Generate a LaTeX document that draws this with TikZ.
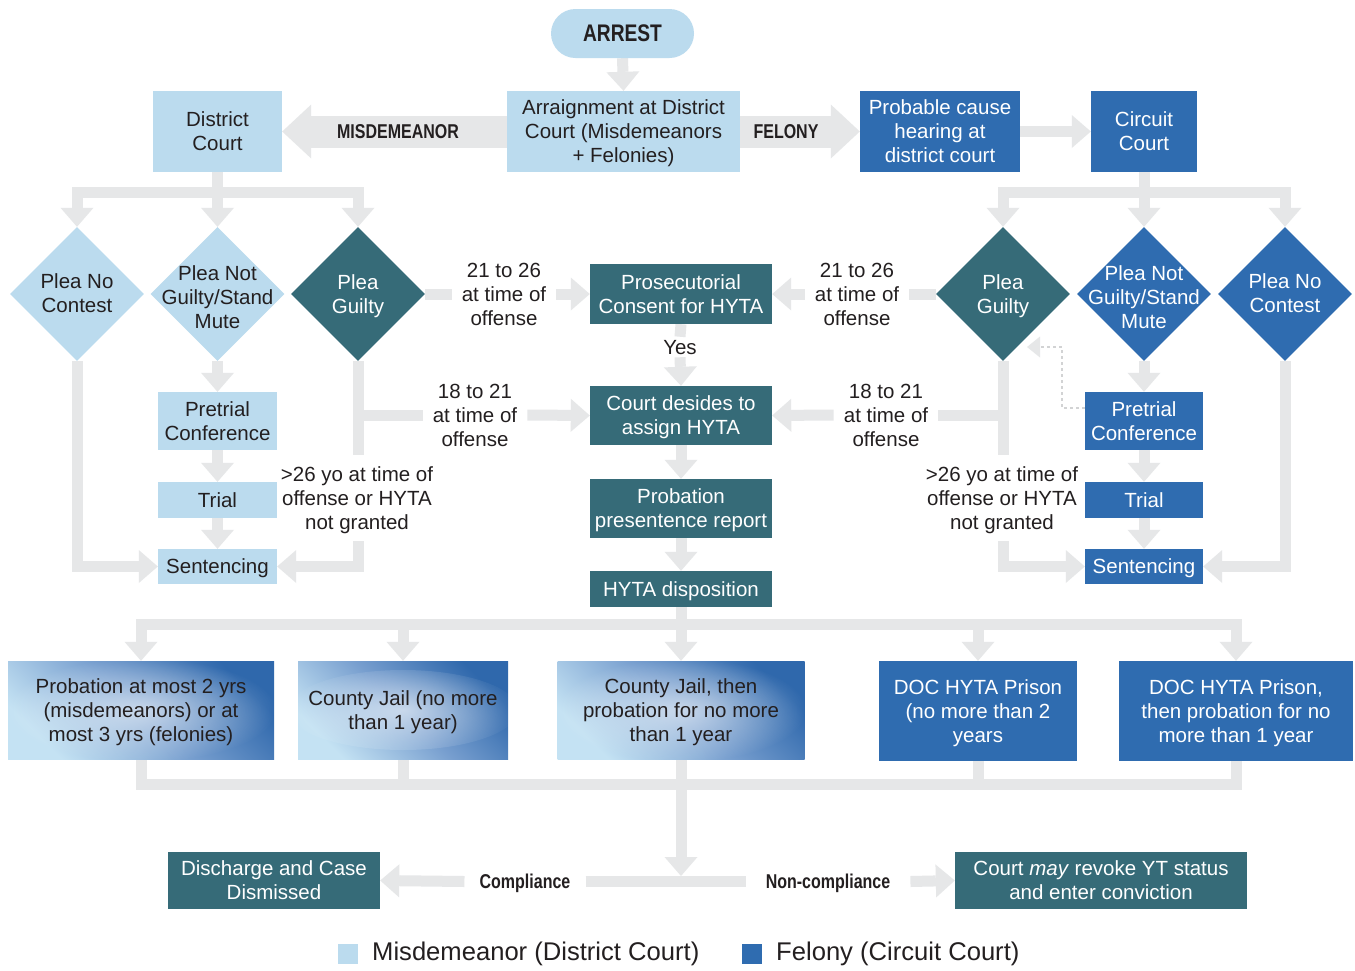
\documentclass[tikz,border=0pt]{standalone}
\usepackage{fontspec}
\setmainfont{Liberation Sans}
\newfontfamily\condfont[FakeStretch=0.8]{Liberation Sans}
\usetikzlibrary{arrows.meta,shapes.geometric,calc,backgrounds,fadings}
\definecolor{lblue}{HTML}{BBDBEE}
\definecolor{mblue}{HTML}{2F6CB0}
\definecolor{tealc}{HTML}{366B78}
\definecolor{cgray}{HTML}{E6E7E8}
\definecolor{dotg}{HTML}{D2D3D4}
\definecolor{txt}{HTML}{231F20}
\definecolor{gdark}{HTML}{2F68AC}
\definecolor{gmid}{HTML}{789FCF}
\definecolor{glight}{HTML}{C4E2F3}
\tikzfading[name=softglow,inner color=transparent!0,outer color=transparent!100]
\newcommand\fsz{\fontsize{20.5}{24}\selectfont}
\newcommand\bsz{\condfont\bfseries\fontsize{20}{24}\selectfont}
\begin{document}
\begin{tikzpicture}[x=1pt,y=-1pt,
  box/.style={rectangle,inner sep=0pt,align=center,font=\fsz,text depth=0pt},
  lbox/.style={box,fill=lblue,text=txt},
  bbox/.style={box,fill=mblue,text=white},
  tbox/.style={box,fill=tealc,text=white},
  gbox/.style={box,text=txt,top color=gdark,bottom color=glight,middle color=gmid,shading angle=-45,
    path picture={\fill[white,opacity=0.6,path fading=softglow]
      (path picture bounding box.center) ellipse (#1);}},
  dia/.style={diamond,minimum width=134pt,minimum height=134pt,inner sep=0pt},
  dtext/.style={align=center,font=\fsz,inner sep=0pt,text depth=0pt},
  lab/.style={align=center,font=\fsz,text=txt,inner xsep=10pt,inner ysep=0pt,text depth=0pt},
  blab/.style={font=\bsz,text=txt,inner ysep=0pt,text depth=0pt},
  conn/.style={draw=cgray,line width=11pt,line join=miter},
  conna/.style={conn,-{Triangle[length=19pt,width=33pt,line width=0pt]}},
  bigarrow/.style={draw=cgray,line width=32pt,-{Triangle[length=29pt,width=54pt,line width=0pt]}},
]
\useasboundingbox (0,0) rectangle (1355,970);
% top row
\node[lbox,rounded corners=24.5pt,minimum width=143pt,minimum height=49pt,font=\condfont\bfseries\fontsize{24}{28}\selectfont] (arrest) at (622.5,33.5) {ARREST};
\node[lbox,minimum width=233pt,minimum height=81pt] (arr) at (623.5,131.5) {Arraignment at District\\Court (Misdemeanors\\+ Felonies)};
\node[lbox,minimum width=129pt,minimum height=81pt] (dc) at (217.5,131.5) {District\\Court};
\node[bbox,minimum width=160pt,minimum height=81pt] (pc) at (940,131.5) {Probable cause\\hearing at\\district court};
\node[bbox,minimum width=106pt,minimum height=81pt] (cc) at (1144,131.5) {Circuit\\Court};
\node[blab] (mis) at (398,131.5) {MISDEMEANOR};
\node[blab] (fel) at (786,131.5) {FELONY};
% diamonds
\node[dia,fill=lblue] (d1) at (77,294) {};
\node[dtext,text=txt] (t1) at (77,293.5) {Plea No\\Contest};
\node[dia,fill=lblue] (d2) at (217.5,294) {};
\node[dtext,text=txt] (t2) at (217.5,297) {Plea Not\\Guilty/Stand\\Mute};
\node[dia,fill=tealc] (d3) at (358,294) {};
\node[dtext,text=white] (t3) at (358,294) {Plea\\Guilty};
\node[dia,fill=tealc] (d4) at (1003,294) {};
\node[dtext,text=white] (t4) at (1003,294) {Plea\\Guilty};
\node[dia,fill=mblue] (d5) at (1144,294) {};
\node[dtext,text=white] (t5) at (1144,297) {Plea Not\\Guilty/Stand\\Mute};
\node[dia,fill=mblue] (d6) at (1285,294) {};
\node[dtext,text=white] (t6) at (1285,293.5) {Plea No\\Contest};
% centre column
\node[tbox,minimum width=182pt,minimum height=60pt] (pro) at (681,294) {Prosecutorial\\Consent for HYTA};
\node[tbox,minimum width=182pt,minimum height=59pt] (cd) at (681,415.5) {Court desides to\\assign HYTA};
\node[tbox,minimum width=182pt,minimum height=59pt] (pp) at (681,508.5) {Probation\\presentence report};
\node[tbox,minimum width=182pt,minimum height=36pt] (hd) at (681,589) {HYTA disposition};
% left column
\node[lbox,minimum width=119pt,minimum height=58pt] (pretL) at (217.5,421) {Pretrial\\Conference};
\node[lbox,minimum width=119pt,minimum height=36pt] (trialL) at (217.5,500) {Trial};
\node[lbox,minimum width=119pt,minimum height=35pt] (sentL) at (217.5,566.5) {Sentencing};
% right column
\node[bbox,minimum width=118pt,minimum height=58pt] (pretR) at (1144,421) {Pretrial\\Conference};
\node[bbox,minimum width=118pt,minimum height=36pt] (trialR) at (1144,500) {Trial};
\node[bbox,minimum width=118pt,minimum height=35pt] (sentR) at (1144,566.5) {Sentencing};
% labels
\node[lab] (l21L) at (504,294) {21 to 26\\at time of\\offense};
\node[lab] (l21R) at (857,294) {21 to 26\\at time of\\offense};
\node[lab] (l18L) at (475,415) {18 to 21\\at time of\\offense};
\node[lab] (l18R) at (886,415) {18 to 21\\at time of\\offense};
\node[lab,minimum height=86pt] (l26L) at (357,498) {>26 yo at time of\\offense or HYTA\\not granted};
\node[lab,minimum height=86pt] (l26R) at (1002,498) {>26 yo at time of\\offense or HYTA\\not granted};
\node[lab,inner ysep=3pt] (yes) at (680,347) {Yes};
% outcomes
\node[gbox={135pt and 52pt},minimum width=266pt,minimum height=98pt] (b1) at (141,710) {Probation at most 2 yrs\\(misdemeanors) or at\\most 3 yrs (felonies)};
\node[gbox={115pt and 40pt},minimum width=210pt,minimum height=98pt] (b2) at (403,710) {County Jail (no more\\than 1 year)};
\node[gbox={125pt and 52pt},minimum width=247pt,minimum height=98pt] (b3) at (681,710) {County Jail, then\\probation for no more\\than 1 year};
\node[bbox,minimum width=198pt,minimum height=100pt] (b4) at (978,711) {DOC HYTA Prison\\(no more than 2\\years};
\node[bbox,minimum width=234pt,minimum height=100pt] (b5) at (1236,711) {DOC HYTA Prison,\\then probation for no\\more than 1 year};
% final
\node[tbox,minimum width=212pt,minimum height=57pt] (dis) at (274,880.5) {Discharge and Case\\Dismissed};
\node[tbox,minimum width=292pt,minimum height=57pt] (rev) at (1101,880.5) {Court \textit{may} revoke YT status\\and enter conviction};
\node[blab,inner xsep=15pt] (comp) at (525,881.5) {Compliance};
\node[blab,inner xsep=20pt] (ncomp) at (828,881.5) {Non-compliance};
% legend
\node[fill=lblue,minimum size=20pt,inner sep=0pt] (lg1) at (348,954) {};
\node[anchor=west,inner sep=0pt,font=\fontsize{25.6}{30}\selectfont,text=txt] (lt1) at (372,954) {Misdemeanor (District Court)};
\node[fill=mblue,minimum size=20pt,inner sep=0pt] (lg2) at (752,954) {};
\node[anchor=west,inner sep=0pt,font=\fontsize{25.6}{30}\selectfont,text=txt] (lt2) at (776,954) {Felony (Circuit Court)};

\begin{pgfonlayer}{background}
\fill[white] (0,0) rectangle (1355,970);
\draw[conna] (arrest.south) -- (arr.north);
\draw[bigarrow] (arr.west) -- (dc.east);
\draw[bigarrow] (arr.east) -- (pc.west);
\draw[conna] (pc.east) -- (cc.west);
% district court branches
\coordinate (bl) at (217.5,192);
\draw[conn] (dc.south) -- (bl);
\draw[conna] (bl) -| (d1.north);
\draw[conna] (dc.south) -- (d2.north);
\draw[conna] (bl) -| (d3.north);
% circuit court branches
\coordinate (br) at (1144,192);
\draw[conn] (cc.south) -- (br);
\draw[conna] (br) -| (d4.north);
\draw[conna] (cc.south) -- (d5.north);
\draw[conna] (br) -| (d6.north);
% plea guilty to HYTA
\draw[conn] (d3.east) -- (l21L.west);
\draw[conna] (l21L.east) -- (pro.west);
\draw[conn] (d4.west) -- (l21R.east);
\draw[conna] (l21R.west) -- (pro.east);
\draw[conn] (pro.south) -- (yes.north);
\draw[conna] (yes.south) -- (cd.north);
% left guilty branch
\draw[conn] (d3.south) -- (d3.south |- l26L.north);
\draw[conn] (d3.south |- l18L.west) -- (l18L.west);
\draw[conna] (l18L.east) -- (cd.west);
\draw[conna] (d3.south |- l26L.south) |- (sentL.east);
\draw[conna] (d1.south) |- (sentL.west);
\draw[conna] (d2.south) -- (pretL.north);
\draw[conna] (pretL.south) -- (trialL.north);
\draw[conna] (trialL.south) -- (sentL.north);
% right guilty branch
\draw[conn] (d4.south) -- (d4.south |- l26R.north);
\draw[conn] (d4.south |- l18R.east) -- (l18R.east);
\draw[conna] (l18R.west) -- (cd.east);
\draw[conna] (d4.south |- l26R.south) |- (sentR.west);
\draw[conna] (d6.south) |- (sentR.east);
\draw[conna] (d5.south) -- (pretR.north);
\draw[conna] (pretR.south) -- (trialR.north);
\draw[conna] (trialR.south) -- (sentR.north);
% dotted return
\coordinate (dA) at ($(pretR.north west)!0.276!(pretR.south west)$);
\coordinate (dT) at (1027,347);
\draw[draw=dotg,line width=2.5pt,dash pattern=on 2.5pt off 3.5pt,-{Triangle[length=13pt,width=21pt,line width=0pt,color=cgray]}] (dA) -- ++(-23,0) |- (dT);
% centre chain
\draw[conna] (cd.south) -- (pp.north);
\draw[conna] (pp.south) -- (hd.north);
\coordinate (hb) at (681,624);
\draw[conn] (hd.south) -- (hb);
\draw[conna] (hb) -| (b1.north);
\draw[conna] (hb) -| (b2.north);
\draw[conna] (hd.south) -- (b3.north);
\draw[conna] (hb) -| (b4.north);
\draw[conna] (hb) -| (b5.north);
% bottom collector
\coordinate (bb) at (681,784);
\draw[conn] (b1.south) |- (bb) -| (b5.south);
\draw[conn] (b2.south) -- (b2.south |- bb);
\draw[conn] (b4.south) -- (b4.south |- bb);
\draw[conn] (b3.south) -- (bb);
\coordinate (cj) at (681,876);
\draw[conna] (bb) -- (cj);
\draw[conna] (comp.west) -- (dis.east);
\draw[conn] (comp.east) -- (ncomp.west);
\draw[conna] (ncomp.east) -- (rev.west);
\end{pgfonlayer}
\end{tikzpicture}
\end{document}
